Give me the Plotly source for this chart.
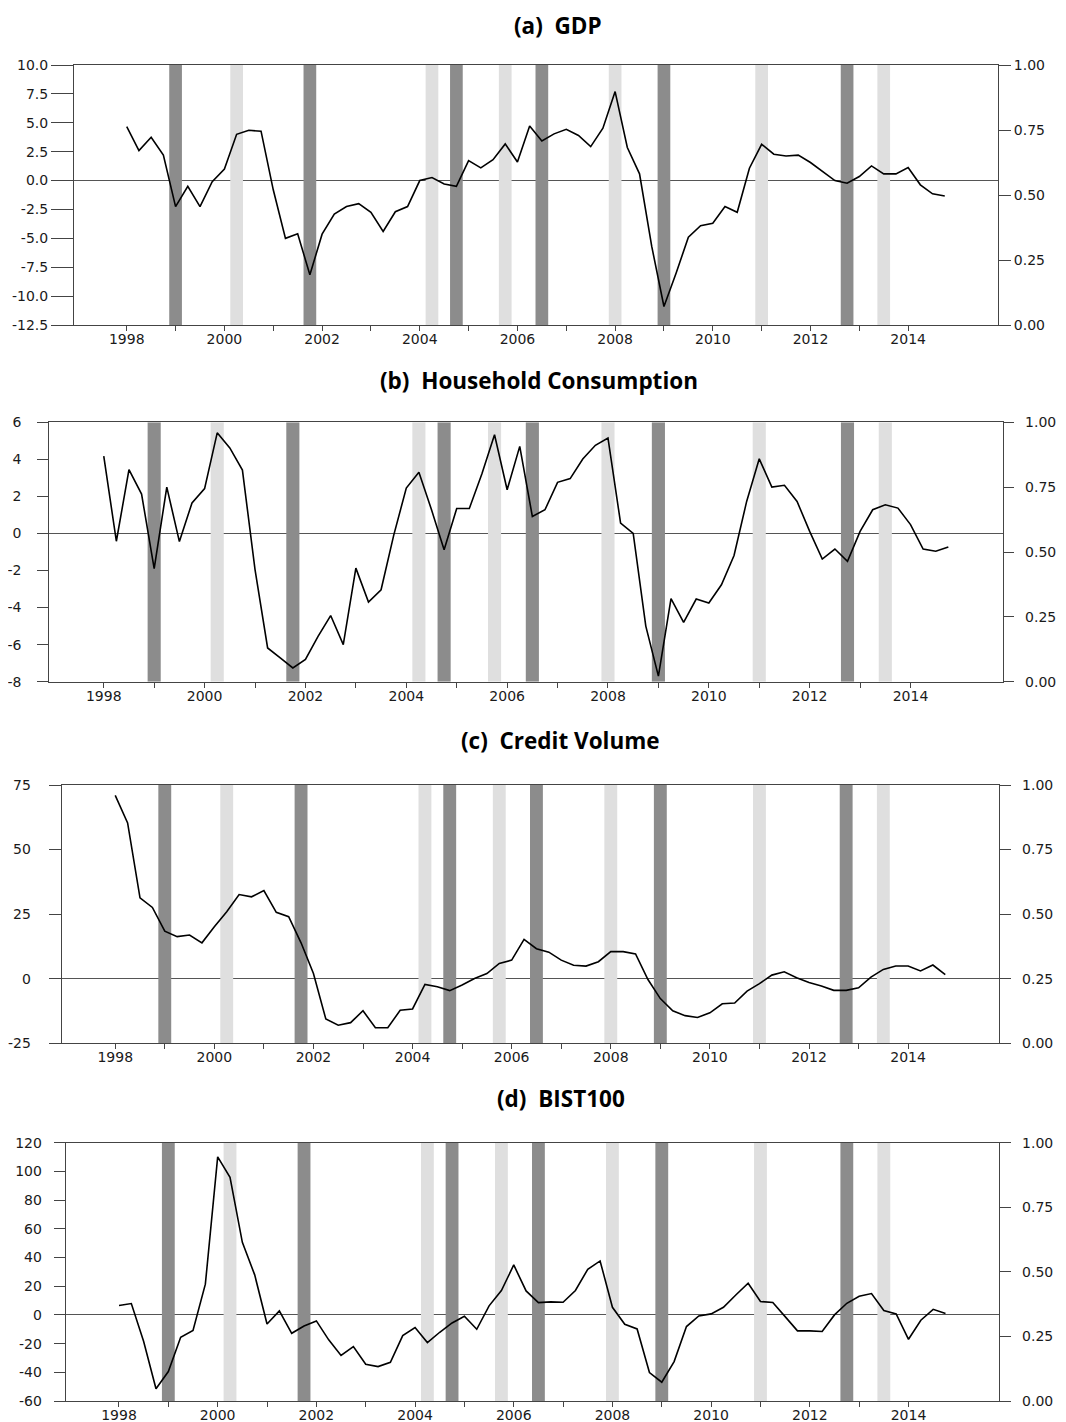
import plotly.graph_objects as go

# ---------------- data ----------------
years = list(range(1998, 2015))
quarters = [y + q / 4 for y in years for q in range(4)]  # 1998Q1 .. 2014Q4

gdp = [4.67, 2.6, 3.75, 2.2, -2.25, -0.5, -2.25, -0.1,
       1.0, 4.0, 4.35, 4.27, -0.8, -5.0, -4.6, -8.16,
       -4.64, -2.9, -2.25, -2.0, -2.75, -4.4, -2.7, -2.25,
       0.0, 0.26, -0.3, -0.5, 1.73, 1.1, 1.8, 3.17,
       1.6, 4.73, 3.43, 4.04, 4.44, 3.9, 2.94, 4.53,
       7.7, 2.86, 0.58, -5.7, -10.9, -8.0, -4.9, -3.9,
       -3.7, -2.25, -2.75, 1.07, 3.14, 2.28, 2.13, 2.2,
       1.56, 0.78, 0.0, -0.23, 0.35, 1.27, 0.58, 0.58,
       1.12, -0.37, -1.15, -1.33]

consumption = [4.17, -0.42, 3.44, 2.13, -1.9, 2.5, -0.44, 1.65,
               2.42, 5.43, 4.62, 3.42, -1.95, -6.18, -6.72, -7.26,
               -6.8, -5.55, -4.43, -6.0, -1.87, -3.7, -3.04, -0.1,
               2.45, 3.3, 1.28, -0.88, 1.35, 1.35, 3.22, 5.33,
               2.36, 4.7, 0.92, 1.28, 2.76, 2.96, 4.02, 4.76,
               5.15, 0.56, 0.0, -5.0, -7.7, -3.52, -4.8, -3.54,
               -3.75, -2.77, -1.19, 1.73, 4.03, 2.5, 2.6, 1.73,
               0.11, -1.38, -0.84, -1.5, 0.11, 1.28, 1.55, 1.37,
               0.48, -0.84, -0.96, -0.73]

credit = [71.0, 60.3, 31.3, 27.6, 18.4, 16.3, 16.9, 13.9,
          20.1, 25.9, 32.6, 31.7, 34.1, 25.7, 24.0, 13.9,
          2.0, -15.6, -18.0, -17.0, -12.4, -19.0, -19.0, -12.2,
          -11.7, -2.2, -3.1, -4.6, -2.45, 0.1, 2.0, 5.9,
          7.2, 15.2, 11.6, 10.3, 7.2, 5.2, 4.9, 6.6,
          10.5, 10.5, 9.6, -0.3, -7.7, -12.4, -14.3, -15.0,
          -13.2, -9.7, -9.4, -4.8, -1.9, 1.4, 2.7, 0.4,
          -1.5, -2.8, -4.5, -4.5, -3.5, 0.6, 3.6, 4.9,
          4.9, 3.0, 5.3, 1.6]

bist100 = [6.5, 7.9, -18.6, -51.5, -39.5, -15.6, -10.9, 21.4,
           110.1, 95.9, 50.6, 27.9, -6.3, 2.8, -12.8, -7.7,
           -4.2, -17.4, -28.3, -22.1, -34.4, -36.0, -33.0, -14.4,
           -8.8, -19.3, -12.1, -5.6, -0.9, -10.0, 6.3, 17.0,
           34.8, 16.7, 8.6, 9.1, 8.8, 17.0, 31.8, 37.6,
           5.3, -6.5, -9.8, -40.2, -46.9, -32.5, -8.1, -0.7,
           0.7, 5.3, 13.9, 22.1, 9.3, 8.6, -1.2, -11.1,
           -11.1, -11.6, 0.0, 8.1, 13.0, 14.9, 3.0, 0.7,
           -17.0, -3.7, 3.9, 0.9]

# regime periods (quarter dates) and their probabilities
dark_dates = [1999.0, 2001.75, 2004.75, 2006.5, 2009.0, 2012.75]
dark_prob = [1.0, 1.0, 1.0, 1.0, 1.0, 1.0]
light_dates = [2000.25, 2004.25, 2005.75, 2008.0, 2011.0, 2013.5]
light_prob = [1.0, 1.0, 1.0, 1.0, 1.0, 1.0]

titles = ["(a)\u00a0\u00a0GDP", "(b)\u00a0\u00a0Household Consumption",
          "(c)\u00a0\u00a0Credit Volume", "(d)\u00a0\u00a0BIST100"]
series = [gdp, consumption, credit, bist100]
left_ticks = [
    [-12.5, -10.0, -7.5, -5.0, -2.5, 0.0, 2.5, 5.0, 7.5, 10.0],
    [-8, -6, -4, -2, 0, 2, 4, 6],
    [-25, 0, 25, 50, 75],
    [-60, -40, -20, 0, 20, 40, 60, 80, 100, 120],
]
left_fmt = ["{:.1f}", "{:.0f}", "{:.0f}", "{:.0f}"]
right_ticks = [0.0, 0.25, 0.5, 0.75, 1.0]
year_labels = [str(y) if y % 2 == 0 else "" for y in years]

# ---------------- layout geometry (page pixels) ----------------
PAGE_OFF = 8          # default body margin of the html page
W, H = 1066 - PAGE_OFF, 1422 - PAGE_OFF
# left, right, top, bottom of each plot frame (page pixels)
frames = [(74, 998, 65, 325), (49.3, 1003.3, 422.3, 681.7),
          (61.7, 999.3, 785, 1043.3), (65.7, 999.3, 1142.7, 1401)]
left_ticklen = [22, 11, 12, 11]
left_standoff = [0, 13, 15, 9]
right_ticklen = [12, 10, 11, 11]
right_standoff = [0, 8, 8, 8]
# title centre x, centre y (page px); first title anchored to the top edge
title_pos = [(558, None), (538.5, 381), (560.5, 740), (561, 1098)]

XR = [1996.92, 2015.84]
AX = "#444444"
TXT = "#1a1a1a"
tfont = dict(family="DejaVu Sans", size=14, color=TXT)


def px_x(v):
    return (v - PAGE_OFF) / W


def px_y(v):
    return 1 - (v - PAGE_OFF) / H


fig = go.Figure()
layout = dict(width=W, height=H, margin=dict(l=0, r=0, t=0, b=0, autoexpand=False),
              paper_bgcolor="white", plot_bgcolor="white", showlegend=False,
              barmode="overlay", annotations=[])

for i in range(4):
    n = i + 1
    xname = "x" if n == 1 else f"x{n}"
    xkey = "xaxis" if n == 1 else f"xaxis{n}"
    base = 2 * i + 1
    over = 2 * i + 2
    bname = "y" if base == 1 else f"y{base}"
    bkey = "yaxis" if base == 1 else f"yaxis{base}"
    oname = f"y{over}"
    okey = f"yaxis{over}"
    L, R, T, B = frames[i]
    xdom = [px_x(L), px_x(R)]
    ydom = [px_y(B), px_y(T)]

    fig.add_trace(go.Bar(x=dark_dates, y=dark_prob, width=0.26,
                         marker=dict(color="#8c8c8c", line=dict(width=0)),
                         xaxis=xname, yaxis=bname, hoverinfo="skip"))
    fig.add_trace(go.Bar(x=light_dates, y=light_prob, width=0.26,
                         marker=dict(color="#dfdfdf", line=dict(width=0)),
                         xaxis=xname, yaxis=bname, hoverinfo="skip"))
    fig.add_trace(go.Scatter(x=quarters, y=series[i], mode="lines",
                             line=dict(color="black", width=1.6),
                             xaxis=xname, yaxis=oname))

    layout[xkey] = dict(domain=xdom, anchor=bname, range=XR, automargin=False,
                        tickmode="array", tickvals=years, ticktext=year_labels,
                        ticks="outside", ticklen=5, tickcolor=AX, tickwidth=1,
                        ticklabelstandoff=-4,
                        showline=True, linecolor=AX, linewidth=1, mirror=True,
                        showgrid=False, zeroline=False, tickfont=tfont)
    layout[bkey] = dict(domain=ydom, anchor=xname, side="right", range=[0, 1],
                        automargin=False,
                        tickmode="array", tickvals=right_ticks,
                        ticktext=[f"{v:.2f}" for v in right_ticks],
                        ticks="outside", ticklen=right_ticklen[i], tickcolor=AX,
                        ticklabelstandoff=right_standoff[i],
                        showline=True, linecolor=AX, linewidth=1,
                        showgrid=False, zeroline=False, tickfont=tfont)
    lt = left_ticks[i]
    layout[okey] = dict(domain=ydom, anchor=xname, overlaying=bname, side="left",
                        range=[lt[0], lt[-1]], automargin=False,
                        tickmode="array", tickvals=lt,
                        ticktext=[left_fmt[i].format(v) for v in lt],
                        ticks="outside", ticklen=left_ticklen[i], tickcolor=AX,
                        ticklabelstandoff=left_standoff[i],
                        showline=True, linecolor=AX, linewidth=1,
                        showgrid=False, zeroline=True, zerolinecolor="#555555",
                        zerolinewidth=1, tickfont=tfont)
    tx, ty = title_pos[i]
    if ty is None:
        ypos, yanc = 1.0, "top"
    else:
        ypos, yanc = px_y(ty), "middle"
    layout["annotations"].append(dict(
        text=f"<b>{titles[i]}</b>", x=px_x(tx), y=ypos, xref="paper",
        yref="paper", xanchor="center", yanchor=yanc, showarrow=False,
        font=dict(family="Open Sans", size=22.5, color="black")))

fig.update_layout(**layout)
fig.write_html("out.html")
